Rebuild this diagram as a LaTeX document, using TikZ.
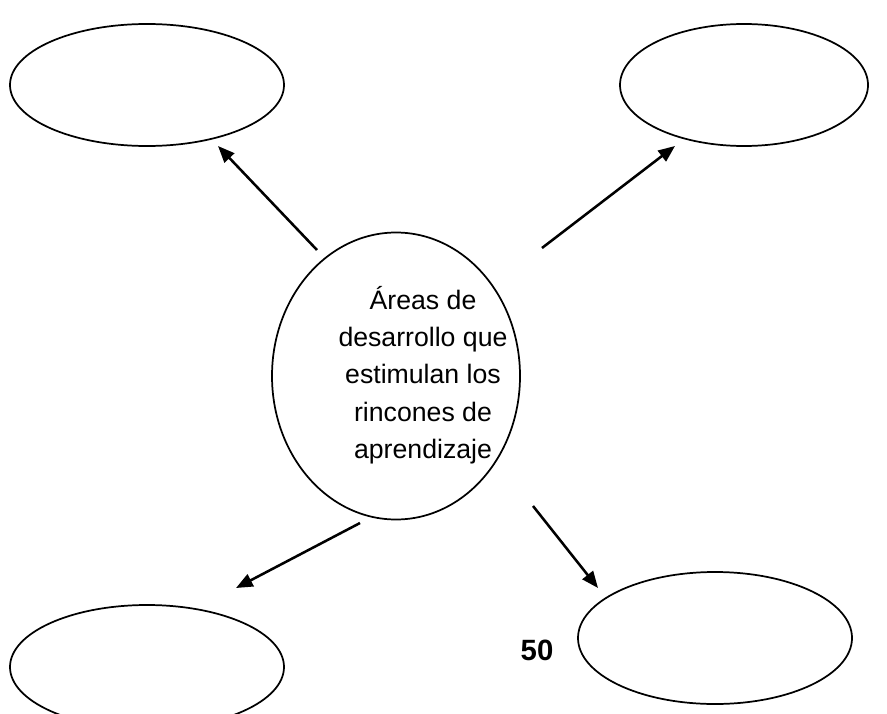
\documentclass[tikz,border=0pt]{standalone}
\usepackage{fontspec}
\setmainfont{Liberation Sans}
\usetikzlibrary{shapes.geometric,arrows.meta}

\tikzset{every picture/.style={line width=0.75pt}}
\tikzset{
  bubble/.style={draw, ellipse, line width=1.3pt, inner sep=0pt},
  flecha/.style={line width=1.9pt, -{Triangle[length=12.5pt,width=10pt]}}
}

\begin{document}
\begin{tikzpicture}[x=0.75pt,y=0.75pt,yscale=-1,xscale=1]
\useasboundingbox (0,0) rectangle (887,713);

%Shape: Ellipse [id:centro]
\node [bubble, minimum width=248*0.75pt, minimum height=287*0.75pt] (centro) at (396,376) {};
%Shape: Ellipse [id:arribaizq]
\node [bubble, minimum width=274*0.75pt, minimum height=122*0.75pt] (arribaizq) at (147,85) {};
%Shape: Ellipse [id:arribader]
\node [bubble, minimum width=248*0.75pt, minimum height=122*0.75pt] (arribader) at (744,85) {};
%Shape: Ellipse [id:abajoizq]
\node [bubble, minimum width=274*0.75pt, minimum height=124*0.75pt] (abajoizq) at (147,667) {};
%Shape: Ellipse [id:abajoder]
\node [bubble, minimum width=274*0.75pt, minimum height=132*0.75pt] (abajoder) at (715,638) {};

% arrow ends
\coordinate (a1) at (317,250);
\coordinate (b1) at (218,146);
\coordinate (a2) at (542,248);
\coordinate (b2) at (675,146);
\coordinate (a3) at (360,523);
\coordinate (b3) at (236,588);
\coordinate (a4) at (533,506);
\coordinate (b4) at (598,588);

%Straight Lines [id:flechas]
\draw [flecha] (a1) -- (b1) ;
\draw [flecha] (a2) -- (b2) ;
\draw [flecha] (a3) -- (b3) ;
\draw [flecha] (a4) -- (b4) ;

% Text Node
\node [align=center, font=\fontsize{20pt}{28pt}\selectfont] (tema) at (423,375) {Áreas de\\desarrollo que\\estimulan los\\rincones de\\aprendizaje};
% Text Node
\node [font=\fontsize{22pt}{26pt}\selectfont\bfseries] (pagina) at (537,650) {50};

\end{tikzpicture}
\end{document}
